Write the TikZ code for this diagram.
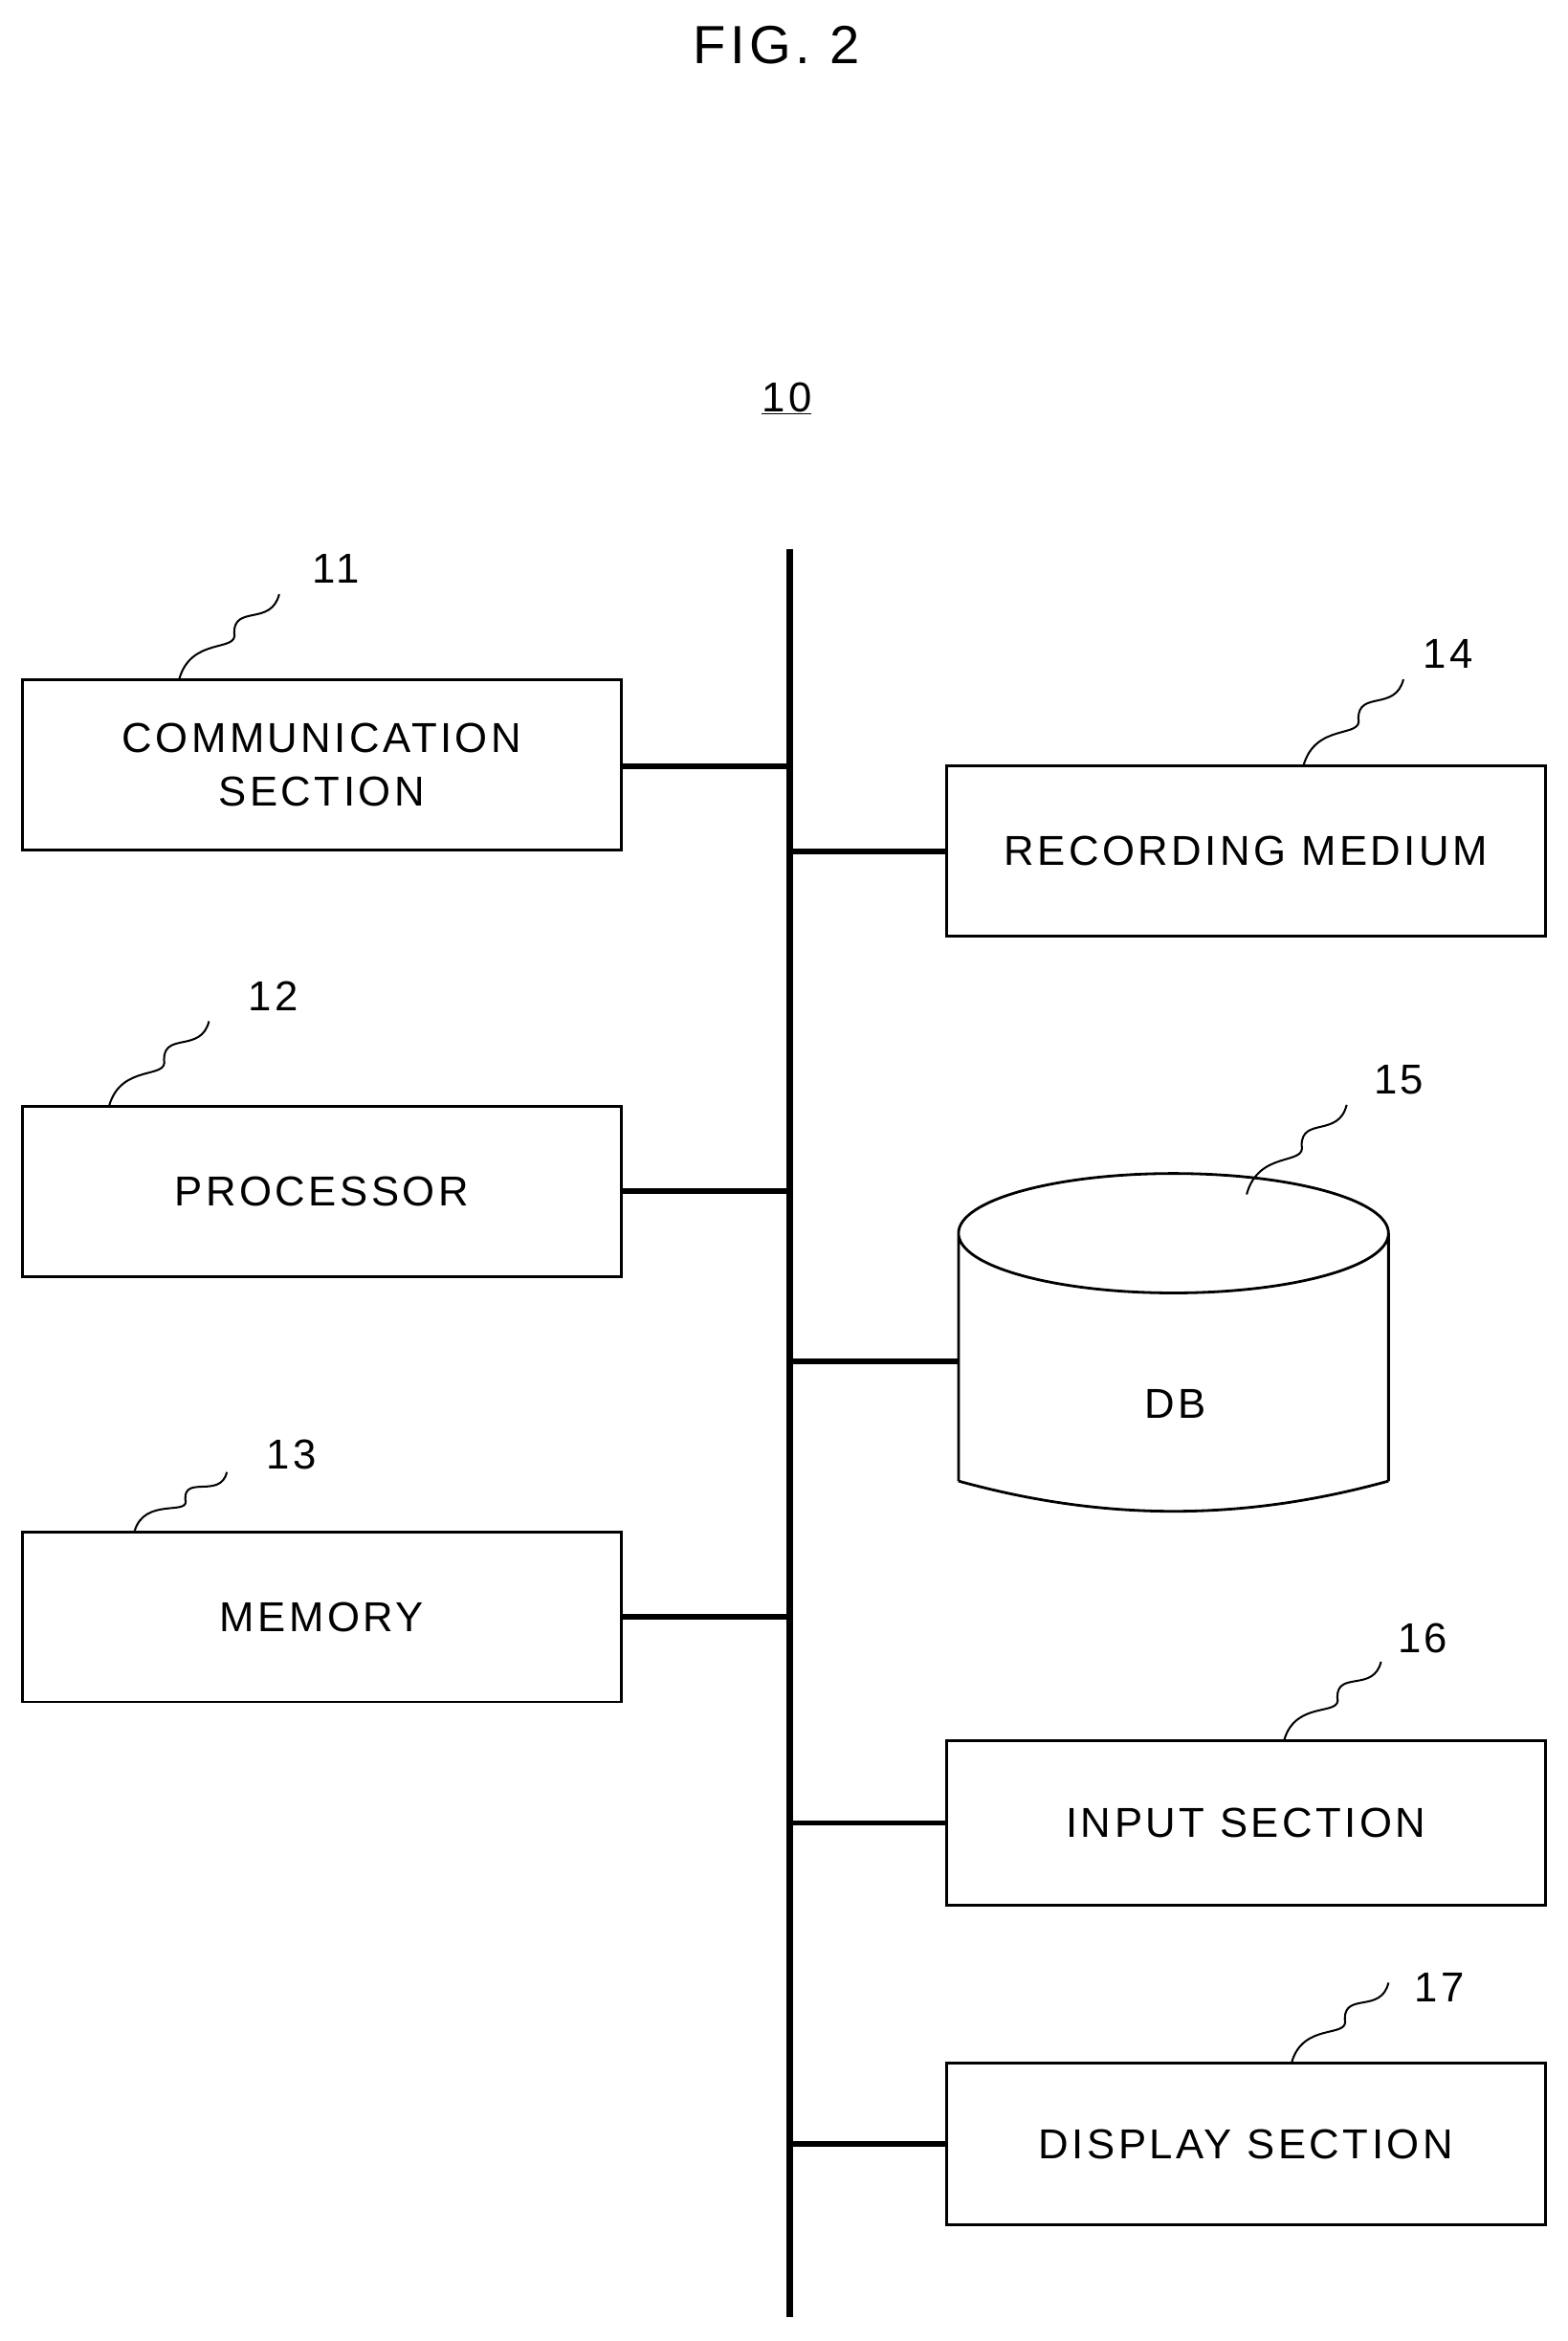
\documentclass[tikz,border=0pt]{standalone}
\usetikzlibrary{calc}
\usepackage{fontspec}
\setmainfont{Liberation Sans}[LetterSpace=8]
\begin{document}
\begin{tikzpicture}[x=1pt,y=-1pt,
  box/.style={draw,line width=1.8pt,minimum width=401pt,minimum height=114pt,inner sep=0pt,font=\fontsize{28}{36}\selectfont,align=center},
  lbl/.style={font=\fontsize{28}{30}\selectfont},
  conn/.style={line width=3.8pt},
  wave/.style={line width=1.3pt}]
\useasboundingbox (0,0) rectangle (1050,1568);
\node[font=\fontsize{36}{40}\selectfont] (fig) at (520,30) {FIG. 2};
\node[lbl] (ten) at (527,267) {\underline{10}};
\coordinate (bt) at (529,368);
\coordinate (bb) at (529,1552);
\draw[line width=4pt] (bt) -- (bb);
\node[box] (b11) at (215.5,512.5) {COMMUNICATION\\SECTION};
\node[box] (b12) at (215.5,798) {PROCESSOR};
\node[box] (b13) at (215.5,1083) {MEMORY};
\node[box] (b14) at (834.5,570) {RECORDING MEDIUM};
\node[box,minimum height=110pt] (b16) at (834.5,1221) {INPUT SECTION};
\node[box,minimum height=108pt] (b17) at (834.5,1436) {DISPLAY SECTION};
% DB
\draw[line width=1.8pt] (642,826) arc[start angle=180,end angle=540,x radius=144pt,y radius=40pt]
  (642,826) -- (642,992) (930,826) -- (930,992)
  (642,992) .. controls (740,1019) and (832,1019) .. (930,992);
\node[lbl] (db) at (787,940) {DB};
\coordinate (dbl) at (642,912);
% connectors
\draw[conn] (b11.east|-0,513) -- (bt|-0,513);
\draw[conn] (b12.east) -- (bt|-b12.east);
\draw[conn] (b13.east) -- (bt|-b13.east);
\draw[conn] (b14.west) -- (bt|-b14.west);
\draw[conn] (dbl) -- (bt|-dbl);
\draw[conn] (b16.west) -- (bt|-b16.west);
\draw[conn] (b17.west) -- (bt|-b17.west);
% labels and waves
\foreach \n/\lx/\ly/\ax/\ay/\bx/\by in {11/225/381/120/455/187/398, 12/183/667/73/741/140/684, 13/195/974/90/1026/152/986, 14/970/438/873/513/940/455, 15/937/723/835/800/902/740, 16/953/1097/860/1166/925/1113, 17/964/1331/865/1382/930/1328}{
  \node[lbl] (l\n) at (\lx,\ly) {\n};
  \coordinate (wa\n) at (\ax,\ay);
  \coordinate (wb\n) at (\bx,\by);
  \draw[wave] (wa\n) .. controls ($(wa\n)!0.3!(wb\n)+(-12,-12)$) and ($(wa\n)!0.45!(wb\n)+(10,8)$) .. ($(wa\n)!0.55!(wb\n)$) .. controls ($(wa\n)!0.7!(wb\n)+(-10,-10)$) and ($(wa\n)!0.8!(wb\n)+(8,10)$) .. (wb\n);
}
\end{tikzpicture}
\end{document}
